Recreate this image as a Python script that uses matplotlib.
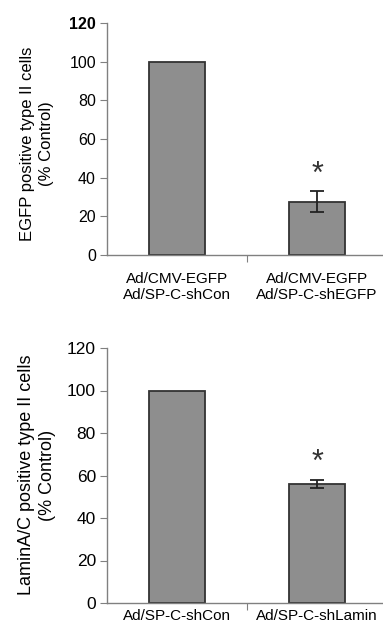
import matplotlib
matplotlib.use("Agg")
import matplotlib.pyplot as plt

plt.rcParams["font.family"] = ["Liberation Sans", "DejaVu Sans"]

# Data
top_labels = ["Ad/CMV-EGFP\nAd/SP-C-shCon", "Ad/CMV-EGFP\nAd/SP-C-shEGFP"]
top_values = [100, 27.5]
top_errors = [0, 5.5]
top_star = 41.5

bottom_labels = ["Ad/SP-C-shCon", "Ad/SP-C-shLamin"]
bottom_values = [100, 56]
bottom_errors = [0, 2]
bottom_star = 66

yticks = [0, 20, 40, 60, 80, 100, 120]

W, H = 383, 630
fig = plt.figure(figsize=(W / 100, H / 100), dpi=100)

bar_color = "#8e8e8e"
edge_color = "#333333"
spine_color = "#808080"


def px_axes(left, top, right, bottom):
    return fig.add_axes([left / W, 1 - bottom / H, (right - left) / W, (bottom - top) / H])


def draw_panel(ax, labels, values, errors, star, tick_size, label_size, label_pad):
    x = list(range(len(values)))
    ax.bar(x, values, width=0.4, color=bar_color, edgecolor=edge_color, linewidth=1.3)
    ax.errorbar(x[1], values[1], yerr=errors[1], fmt="none", ecolor="#222222",
                elinewidth=1.3, capsize=5, capthick=1.3)
    ax.text(x[1], star, "*", ha="center", va="center", fontsize=22, color="#333333")
    ax.set_xlim(-0.5, 1.5)
    ax.set_ylim(0, 120)
    ax.set_yticks(yticks)
    ax.tick_params(axis="y", direction="out", length=5, color=spine_color,
                   labelsize=tick_size, pad=3)
    ax.set_xticks([0.5])
    ax.set_xticklabels([""])
    ax.tick_params(axis="x", which="major", direction="out", length=5, color=spine_color)
    ax.set_xticks(x, minor=True)
    ax.set_xticklabels(labels, minor=True, fontsize=label_size, linespacing=1.25)
    ax.tick_params(axis="x", which="minor", length=0, pad=label_pad)
    for s in ["top", "right"]:
        ax.spines[s].set_visible(False)
    for s in ["left", "bottom"]:
        ax.spines[s].set_color(spine_color)
        ax.spines[s].set_linewidth(1.0)


ax1 = px_axes(107, 23, 387, 255)
draw_panel(ax1, top_labels, top_values, top_errors, top_star, 11.5, 11, 12)
ax1.get_yticklabels()[-1].set_fontweight("bold")
fig.text(37 / W, 1 - 144 / H, "EGFP positive type II cells\n(% Control)",
         rotation=90, ha="center", va="center", fontsize=12, linespacing=1.35)

ax2 = px_axes(107, 348, 387, 603)
draw_panel(ax2, bottom_labels, bottom_values, bottom_errors, bottom_star, 12.5, 11, 4)
fig.text(37 / W, 1 - 475 / H, "LaminA/C positive type II cells\n(% Control)",
         rotation=90, ha="center", va="center", fontsize=13, linespacing=1.3)

fig.savefig("out.png", dpi=100)
